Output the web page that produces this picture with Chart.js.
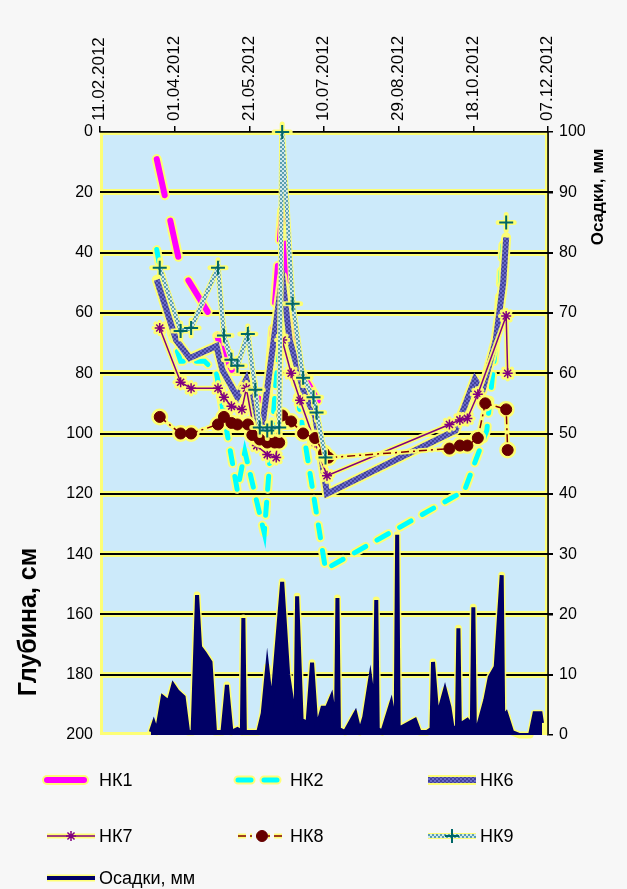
<!DOCTYPE html>
<html lang="ru">
<head>
<meta charset="UTF-8">
<title>Глубина и осадки 2012</title>
<script src="https://cdn.jsdelivr.net/npm/chart.js@4.4.0/dist/chart.umd.min.js"></script>
<style>
    html, body { margin: 0; padding: 0; background: #f7f7f7; }
</style>
</head>
<body>
<canvas id="depthChart" width="627" height="889"></canvas>

<script>
// ***********
// Depth of groundwater in wells (left axis, reversed) and precipitation (right axis)
// ***********

// Top axis tick labels (every 50 days from 11.02.2012)
const dateTicks = ['11.02.2012', '01.04.2012', '21.05.2012', '10.07.2012', '29.08.2012', '18.10.2012', '07.12.2012'];

// НК1
const hk1Dates = ['20.03', '05.04', '26.04', '01.05', '15.05', '02.06', '12.06', '18.06', '24.06', '30.06', '10.07'];
const hk1Depth = [9, 45, 62, 70, 85, 90, 26, 62, 79, 84, 93];
// НК2
const hk2Dates = ['20.03', '30.03', '05.04', '21.04', '29.04', '13.05', '18.05', '31.05', '12.06', '11.07', '12.10', '27.10', '03.11', '07.11'];
const hk2Depth = [39, 67, 76, 76, 80, 119, 106, 133, 56, 145, 119, 99, 66, 36];
// НК6
const hk6Dates = ['20.03', '02.04', '11.04', '29.04', '03.05', '13.05', '19.05', '29.05', '12.06', '17.06', '27.06', '04.07', '12.07', '06.10', '19.10', '24.10', '02.11', '07.11', '09.11'];
const hk6Depth = [49, 69, 75, 71, 79, 88, 82, 100, 48, 69, 87, 94, 120, 99, 82, 86, 69, 50, 35];
// НК7
const hk7Dates = ['22.03', '05.04', '12.04', '30.04', '04.05', '09.05', '16.05', '19.05', '26.05', '02.06', '08.06', '12.06', '18.06', '24.06', '04.07', '12.07', '02.10', '09.10', '14.10', '21.10', '09.11', '10.11'];
const hk7Depth = [65, 83, 85, 85, 88, 91, 92, 85, 104, 107, 108, 69, 80, 89, 103, 114, 97, 95.5, 95, 87, 61, 80];
// НК8
const hk8Dates = ['22.03', '05.04', '12.04', '30.04', '04.05', '09.05', '13.05', '20.05', '23.05', '28.05', '02.06', '07.06', '10.06', '12.06', '18.06', '26.06', '04.07', '10.07', '13.07', '02.10', '09.10', '14.10', '21.10', '26.10', '09.11', '10.11'];
const hk8Depth = [94.5, 100, 100, 97, 94.5, 96.5, 97, 97, 100.5, 102, 103, 103, 103, 94, 96, 100, 101.5, 106.5, 108, 105, 104, 104, 101.5, 90, 92, 105.5];
// НК9
const hk9Dates = ['22.03', '05.04', '12.04', '30.04', '04.05', '09.05', '13.05', '20.05', '25.05', '28.05', '02.06', '05.06', '10.06', '12.06', '19.06', '26.06', '03.07', '05.07', '11.07', '09.11'];
const hk9Depth = [45, 66, 65, 45, 67.5, 75.5, 77.5, 67, 85.5, 98, 99, 98, 98, 0, 57, 81.5, 88, 93, 108, 30];

// Осадки, мм
const rainDates = [
    '16.03', '18.03', '20.03', '24.03', '28.03', '31.03', '03.04', '07.04', '10.04', '13.04',
    '16.04', '18.04', '21.04', '25.04', '28.04', '03.05', '06.05', '09.05', '13.05', '16.05',
    '17.05', '18.05', '20.05', '27.05', '30.05', '02.06', '05.06', '08.06', '12.06', '16.06',
    '19.06', '21.06', '22.06', '25.06', '29.06', '02.07', '05.07', '09.07', '12.07', '15.07',
    '18.07', '19.07', '20.07', '24.07', '31.07', '03.08', '06.08', '10.08', '13.08', '14.08',
    '15.08', '18.08', '24.08', '27.08', '28.08', '29.08', '31.08', '09.09', '12.09', '17.09',
    '20.09', '21.09', '24.09', '29.09', '02.10', '04.10', '07.10', '08.10', '09.10', '11.10',
    '14.10', '17.10', '18.10', '19.10', '21.10', '26.10', '29.10', '02.11', '06.11', '07.11',
    '09.11', '13.11', '18.11', '25.11', '28.11', '02.12', '03.12'];
const rainMm = [
    0.5, 2, 0.5, 6.3, 5.5, 8.3, 7.2, 6.3, 0.5, 0.5,
    23.2, 14.6, 13.6, 12.1, 0.5, 0.5, 8.3, 0.5, 1, 0.5,
    19.4, 0.5, 0.5, 0.5, 3.6, 11.3, 4.6, 13.6, 25.4, 10,
    5, 3, 23, 2.5, 2, 12, 1, 4.5, 4.5, 6.3,
    1, 22.7, 1, 0.5, 3.6, 0.5, 3, 9.4, 4, 22.4,
    1, 0.5, 5.3, 1, 33.2, 1, 1.3, 2.5, 0.5, 0.5,
    1, 12.1, 3, 7.5, 4.6, 1.3, 1, 17.7, 1, 2,
    2.5, 1.5, 21.2, 1.5, 1.3, 5.8, 9.6, 11.3, 26.5, 3,
    3.6, 0.5, 0, 0, 3.6, 3.6, 2];

const GLOW = 'rgba(255,255,110,0.95)';
const MAX_GAP = 100;   // days; НК9 has no line across the long summer gap

// 'DD.MM' -> days since 11.02.2012
function dayNo(s) {
    const [d, m] = s.split('.').map(Number);
    return (Date.UTC(2012, m - 1, d) - Date.UTC(2012, 1, 11)) / 86400000;
}
function toPoints(dates, vals) {
    return dates.map((s, i) => ({ x: dayNo(s), y: vals[i] }));
}
// small checker pattern for the textured lines
function makePattern(c1, c2) {
    const p = document.createElement('canvas');
    p.width = 4; p.height = 4;
    const g = p.getContext('2d');
    g.fillStyle = c1; g.fillRect(0, 0, 4, 4);
    g.fillStyle = c2; g.fillRect(0, 0, 2, 2); g.fillRect(2, 2, 2, 2);
    return g.createPattern(p, 'repeat');
}
function hasHelpers() { return Chart.helpers && Chart.helpers.drawPoint; }

Chart.defaults.font.family = "'Liberation Sans', Arial, sans-serif";
Chart.defaults.color = '#000';

const hk6Pattern = makePattern('#6a6ac8', '#42429c');
const hk9Pattern = makePattern('#5a9eb0', '#cfe7ec');

const datasets = [
    { label: 'НК1', data: toPoints(hk1Dates, hk1Depth), yAxisID: 'y', order: 6, glow: 4,
      borderColor: '#ff00ff', borderWidth: 6, borderDash: [37, 26], borderCapStyle: 'round', pointRadius: 0 },
    { label: 'НК2', data: toPoints(hk2Dates, hk2Depth), yAxisID: 'y', order: 5, glow: 4,
      borderColor: '#00ffff', borderWidth: 5, borderDash: [13, 13], borderCapStyle: 'round', pointRadius: 0 },
    { label: 'НК6', data: toPoints(hk6Dates, hk6Depth), yAxisID: 'y', order: 4, glow: 4,
      borderColor: hk6Pattern, borderWidth: 6, pointRadius: 0 },
    { label: 'НК7', data: toPoints(hk7Dates, hk7Depth), yAxisID: 'y', order: 3, glow: 3.5,
      borderColor: '#800080', borderWidth: 1.5, pointStyle: 'star', pointRadius: 5,
      pointBorderColor: '#800080', pointBackgroundColor: '#800080', pointBorderWidth: 1.5 },
    { label: 'НК8', data: toPoints(hk8Dates, hk8Depth), yAxisID: 'y', order: 2, glow: 3.5,
      borderColor: '#800000', borderWidth: 1.5, borderDash: [8, 4, 2, 4], pointStyle: 'circle', pointRadius: 5.5,
      pointBorderColor: '#660000', pointBackgroundColor: '#660000', pointBorderWidth: 1 },
    { label: 'НК9', data: toPoints(hk9Dates, hk9Depth), yAxisID: 'y', order: 1, glow: 2, clip: 10, gapBreak: true,
      borderColor: hk9Pattern, borderWidth: 4, pointStyle: 'cross', pointRadius: 7,
      pointBorderColor: '#006666', pointBackgroundColor: '#006666', pointBorderWidth: 2,
      segment: { borderColor: c => (c.p1.parsed.x - c.p0.parsed.x > MAX_GAP ? 'rgba(0,0,0,0)' : undefined) } },
    { label: 'Осадки, мм', data: toPoints(rainDates, rainMm), yAxisID: 'y2', order: 7, glow: 3,
      borderColor: '#000066', backgroundColor: '#000066', borderWidth: 4, fill: 'origin', pointRadius: 0 }
];

// Plot background, grid lines with yellow glow, and glow under precipitation
const backPlugin = {
    id: 'backPlugin',
    beforeDraw(chart) {
        const { ctx, chartArea: a } = chart;
        ctx.save();
        ctx.fillStyle = '#f7f7f7';
        ctx.fillRect(0, 0, chart.width, chart.height);
        ctx.fillStyle = '#cceafa';
        ctx.fillRect(a.left, a.top, a.right - a.left, a.bottom - a.top);
        ctx.restore();
    },
    beforeDatasetsDraw(chart) {
        const { ctx, chartArea: a, scales } = chart;
        ctx.save();
        // border
        ctx.strokeStyle = GLOW;
        ctx.lineWidth = 3;
        ctx.strokeRect(a.left + 1.5, a.top + 1.5, a.right - a.left - 3, a.bottom - a.top - 3);
        // horizontal grid
        for (let v = 20; v < 200; v += 20) {
            const y = Math.round(scales.y.getPixelForValue(v));
            ctx.strokeStyle = GLOW; ctx.lineWidth = 6;
            ctx.beginPath(); ctx.moveTo(a.left, y); ctx.lineTo(a.right, y); ctx.stroke();
            ctx.strokeStyle = '#000'; ctx.lineWidth = 2;
            ctx.beginPath(); ctx.moveTo(a.left, y); ctx.lineTo(a.right + 5, y); ctx.stroke();
        }
        // top and right axis lines
        ctx.strokeStyle = '#000'; ctx.lineWidth = 1.5;
        ctx.beginPath(); ctx.moveTo(a.left, a.top); ctx.lineTo(a.right, a.top); ctx.lineTo(a.right, a.bottom); ctx.stroke();

        // glow under precipitation (drawn before filler)
        const pts = chart.getDatasetMeta(6).data;
        ctx.beginPath();
        ctx.moveTo(pts[0].x, a.bottom);
        pts.forEach(p => ctx.lineTo(p.x, p.y));
        ctx.lineTo(pts[pts.length - 1].x, a.bottom);
        ctx.strokeStyle = GLOW; ctx.lineWidth = 7; ctx.lineJoin = 'round';
        ctx.stroke();
        ctx.restore();
    }
};

// Yellow glow under each depth line and its markers
const glowPlugin = {
    id: 'glowPlugin',
    beforeDatasetDraw(chart, args) {
        const ctx = chart.ctx;
        const ds = chart.data.datasets[args.index];
        if (ds.yAxisID !== 'y') return;
        const pts = args.meta.data;
        ctx.save();
        ctx.strokeStyle = GLOW;
        ctx.fillStyle = GLOW;
        ctx.lineWidth = ds.borderWidth + ds.glow;
        ctx.lineJoin = 'round';
        ctx.lineCap = 'round';
        ctx.setLineDash(ds.borderDash || []);
        ctx.beginPath();
        pts.forEach((p, i) => {
            const gap = i && ds.gapBreak && (ds.data[i].x - ds.data[i - 1].x > MAX_GAP);
            (i && !gap) ? ctx.lineTo(p.x, p.y) : ctx.moveTo(p.x, p.y);
        });
        ctx.stroke();
        ctx.setLineDash([]);
        if (ds.pointRadius > 0 && hasHelpers()) {
            ctx.lineWidth = ds.pointBorderWidth + 3;
            pts.forEach(p => Chart.helpers.drawPoint(ctx, { pointStyle: ds.pointStyle, radius: ds.pointRadius + 1, rotation: 0, borderWidth: ds.pointBorderWidth + 3 }, p.x, p.y));
        }
        ctx.restore();
    }
};

// Axis titles and the 3-column legend
const textPlugin = {
    id: 'textPlugin',
    afterDraw(chart) {
        const ctx = chart.ctx;
        ctx.save();
        ctx.fillStyle = '#000';
        ctx.textAlign = 'center';
        ctx.textBaseline = 'middle';
        ctx.font = "bold 25px 'Liberation Sans', Arial, sans-serif";
        ctx.save(); ctx.translate(29, 622); ctx.rotate(-Math.PI / 2); ctx.fillText('Глубина, см', 0, 0); ctx.restore();
        ctx.font = "bold 17px 'Liberation Sans', Arial, sans-serif";
        ctx.save(); ctx.translate(598, 197); ctx.rotate(-Math.PI / 2); ctx.fillText('Осадки, мм', 0, 0); ctx.restore();

        // legend
        const colX = [47, 238, 428];
        const rowY = [780, 836, 878];
        ctx.font = "18px 'Liberation Sans', Arial, sans-serif";
        ctx.textAlign = 'left';
        chart.data.datasets.forEach((ds, i) => {
            const x0 = colX[i % 3], x1 = x0 + 48, y = rowY[Math.floor(i / 3)];
            ctx.save();
            ctx.lineCap = ds.borderCapStyle || 'butt';
            ctx.setLineDash(ds.borderDash || []);
            ctx.strokeStyle = GLOW; ctx.lineWidth = ds.borderWidth + ds.glow;
            ctx.beginPath(); ctx.moveTo(x0, y); ctx.lineTo(x1, y); ctx.stroke();
            ctx.strokeStyle = ds.borderColor; ctx.lineWidth = ds.borderWidth;
            ctx.beginPath(); ctx.moveTo(x0, y); ctx.lineTo(x1, y); ctx.stroke();
            ctx.setLineDash([]);
            if (ds.pointRadius > 0 && hasHelpers()) {
                ctx.fillStyle = ds.pointBackgroundColor;
                ctx.strokeStyle = ds.pointBorderColor;
                ctx.lineWidth = ds.pointBorderWidth;
                Chart.helpers.drawPoint(ctx, { pointStyle: ds.pointStyle, radius: ds.pointRadius, rotation: 0, borderWidth: ds.pointBorderWidth }, (x0 + x1) / 2, y);
            }
            ctx.restore();
            ctx.fillText(ds.label, x1 + 4, y + 1);
        });
        ctx.restore();
    }
};

new Chart(document.getElementById('depthChart'), {
    type: 'line',
    data: { datasets: datasets },
    options: {
        responsive: false,
        animation: false,
        devicePixelRatio: 1,
        layout: { padding: { top: 0, left: 0, right: 0, bottom: 154 } },
        elements: { line: { tension: 0 } },
        plugins: { legend: { display: false }, tooltip: { enabled: false } },
        scales: {
            x: {
                type: 'linear', position: 'top', min: 0, max: 300,
                ticks: { stepSize: 50, autoSkip: false, minRotation: 90, maxRotation: 90, padding: 5, labelOffset: 20,
                         font: { size: 17 }, callback: (v, i) => dateTicks[i] },
                grid: { drawOnChartArea: false, drawTicks: true, tickLength: 6, color: '#000', lineWidth: 1.5 },
                border: { display: true, color: '#000', width: 1.5 },
                afterFit: s => { s.height = 132; }
            },
            y: {
                position: 'left', reverse: true, min: 0, max: 200,
                ticks: { stepSize: 20, padding: 7, font: { size: 16 } },
                grid: { drawOnChartArea: false, drawTicks: false },
                border: { display: false },
                afterFit: s => { s.width = 100; }
            },
            y2: {
                position: 'right', min: 0, max: 100,
                ticks: { stepSize: 10, padding: 6, font: { size: 16 } },
                grid: { drawOnChartArea: false, tickLength: 5, color: '#000', lineWidth: 1.5 },
                border: { display: true, color: '#000', width: 1.5 },
                afterFit: s => { s.width = 79; }
            }
        }
    },
    plugins: [backPlugin, glowPlugin, textPlugin]
});
</script>
</body>
</html>
